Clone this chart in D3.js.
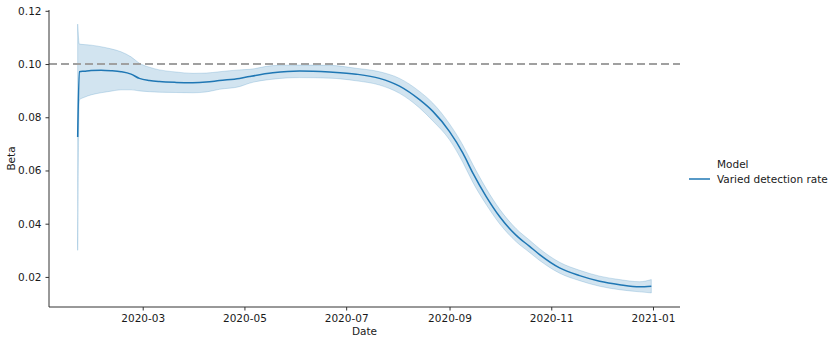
<!DOCTYPE html>
<html><head><meta charset="utf-8">
<script src="https://cdn.jsdelivr.net/npm/d3@7"></script>
<style>body{margin:0;background:#fff}svg{display:block}text{font-family:"DejaVu Sans",sans-serif}</style>
</head><body><svg id="c" width="830" height="344"></svg>
<script>
const dates = ["2020-01-22","2020-01-23","2020-01-26","2020-01-30","2020-02-05","2020-02-11","2020-02-17","2020-02-23","2020-02-28","2020-03-05","2020-03-11","2020-03-21","2020-03-31","2020-04-08","2020-04-16","2020-04-28","2020-05-04","2020-05-18","2020-06-03","2020-06-21","2020-07-07","2020-07-21","2020-08-02","2020-08-14","2020-08-22","2020-09-01","2020-09-09","2020-09-15","2020-09-23","2020-10-01","2020-10-11","2020-10-19","2020-10-25","2020-11-06","2020-11-18","2020-11-30","2020-12-12","2020-12-24","2020-12-31"];
const betaMean = [0.0726,0.0971,0.0973,0.0976,0.0977,0.0975,0.0971,0.0962,0.0946,0.0938,0.0934,0.0931,0.0930,0.0932,0.0938,0.0946,0.0953,0.0967,0.0974,0.0970,0.0962,0.0946,0.0917,0.0866,0.0822,0.0746,0.0665,0.0590,0.0502,0.0427,0.0356,0.0315,0.0284,0.0234,0.0205,0.0184,0.0171,0.0163,0.0165];
const betaLo = [0.0300,0.0865,0.0875,0.0884,0.0892,0.0898,0.0903,0.0903,0.0899,0.0896,0.0894,0.0893,0.0892,0.0895,0.0905,0.0915,0.0928,0.0943,0.0949,0.0947,0.0937,0.0921,0.0890,0.0835,0.0786,0.0715,0.0630,0.0555,0.0472,0.0400,0.0332,0.0292,0.0262,0.0214,0.0186,0.0165,0.0152,0.0144,0.0140];
const betaHi = [0.1150,0.1075,0.1073,0.1071,0.1065,0.1057,0.1046,0.1027,0.1003,0.0988,0.0978,0.0970,0.0965,0.0966,0.0971,0.0978,0.0980,0.0994,0.0996,0.0995,0.0984,0.0971,0.0946,0.0897,0.0853,0.0775,0.0695,0.0622,0.0532,0.0455,0.0381,0.0338,0.0306,0.0255,0.0225,0.0203,0.0190,0.0182,0.0190];
const yTicks = [0.02,0.04,0.06,0.08,0.10,0.12];
const xTickLabels = ["2020-03","2020-05","2020-07","2020-09","2020-11","2021-01"];
const refLine = 0.10;
const seriesName = "Varied detection rate";
const legendTitle = "Model";

const parse = d3.utcParse("%Y-%m-%d");
const data = dates.map((d,i)=>({t:parse(d),m:betaMean[i],lo:betaLo[i],hi:betaHi[i]}));
const svg = d3.select("#c");
const L=49,R=680,T=10,B=307;
const ext = d3.extent(data,d=>d.t);
const span = ext[1]-ext[0];
const x = d3.scaleUtc().domain([new Date(+ext[0]-span*0.05), new Date(+ext[1]+span*0.05)]).range([L,R]);
const y = d3.scaleLinear().domain([0.0087,0.1203]).range([B,T]);
const blue="#1f77b4";

svg.append("path").datum(data)
  .attr("d", d3.area().x(d=>x(d.t)).y0(d=>y(d.lo)).y1(d=>y(d.hi)).curve(d3.curveMonotoneX))
  .attr("fill",blue).attr("fill-opacity",0.2).attr("stroke",blue).attr("stroke-opacity",0.2).attr("stroke-width",1);

svg.append("line").attr("x1",L).attr("x2",R).attr("y1",y(refLine)).attr("y2",y(refLine))
  .attr("stroke","#a0a0a0").attr("stroke-width",2).attr("stroke-dasharray","8,4");

svg.append("path").datum(data)
  .attr("d", d3.line().x(d=>x(d.t)).y(d=>y(d.m)).curve(d3.curveMonotoneX))
  .attr("fill","none").attr("stroke",blue).attr("stroke-width",1.5);

const ax = svg.append("g").attr("transform",`translate(0,${B})`)
  .call(d3.axisBottom(x).tickValues(xTickLabels.map(s=>parse(s+"-01"))).tickFormat(d3.utcFormat("%Y-%m")).tickSizeOuter(0).tickSize(3.5).tickPadding(4));
const ay = svg.append("g").attr("transform",`translate(${L},0)`)
  .call(d3.axisLeft(y).tickValues(yTicks).tickFormat(d3.format(".2f")).tickSizeOuter(0).tickSize(3.5).tickPadding(4));
[ax,ay].forEach(g=>{
  g.select(".domain").attr("stroke","#333").attr("stroke-width",1);
  g.selectAll(".tick line").attr("stroke","#333");
  g.selectAll(".tick text").attr("fill","#1a1a1a").style("font-size","10.5px").style("font-family","DejaVu Sans");
});
ax.select(".domain").attr("d",`M${L},0H${R}`);
ay.select(".domain").attr("d",`M0,${B}V${T}`);

svg.append("text").attr("x",(L+R)/2).attr("y",335).attr("text-anchor","middle").attr("fill","#1a1a1a").style("font-size","10.5px").text("Date");
svg.append("text").attr("transform",`translate(15,${(T+B)/2}) rotate(-90)`).attr("text-anchor","middle").attr("fill","#1a1a1a").style("font-size","10.5px").text("Beta");

svg.append("text").attr("x",717).attr("y",168).attr("fill","#1a1a1a").style("font-size","10.5px").text(legendTitle);
svg.append("line").attr("x1",689).attr("x2",710).attr("y1",179).attr("y2",179).attr("stroke",blue).attr("stroke-width",1.5);
svg.append("text").attr("x",717).attr("y",183).attr("fill","#1a1a1a").style("font-size","10.5px").text(seriesName);
</script></body></html>
